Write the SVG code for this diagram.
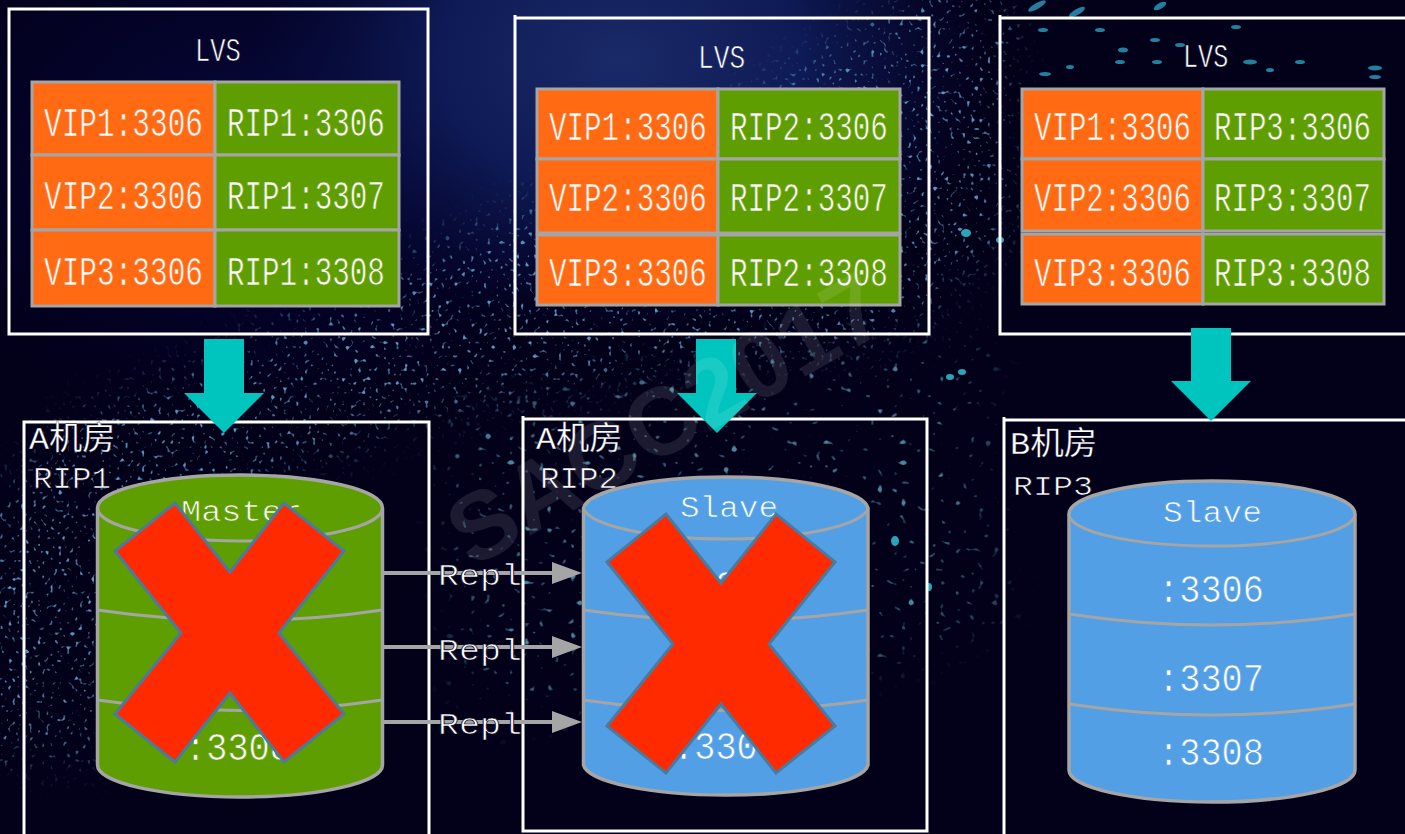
<svg xmlns="http://www.w3.org/2000/svg" width="1405" height="834" viewBox="0 0 1405 834">
<style>
text{font-family:"Liberation Mono","Noto Sans CJK SC",monospace;fill:#fff;stroke-width:.7}
.frame{fill:none;stroke:#fff;stroke-width:3}
.cell{stroke:#a5a5a5;stroke-width:3}
.vip{fill:#ff6a13}
.rip{fill:#5f9e00}
.t{font-size:40px}
.ov{stroke:#ff6a13}
.gr{stroke:#5f9e00}
.bl{stroke:#529fe6}
.dk{stroke:#050322}
.lvs{font-size:34px}
.lab{font-size:30px}
.cjk{font-size:32px;stroke-width:.3}
.nm{font-size:30px}
.db{font-size:38px}
.green{fill:#5f9e00;stroke:#a5a5a5;stroke-width:3.5}
.blue{fill:#529fe6;stroke:#a5a5a5;stroke-width:3.5}
.sep{fill:none;stroke:#a5a5a5;stroke-width:3}
.down{fill:#00c4be}
.repl{stroke:#a5a5a5;stroke-width:4;fill:none}
.cross{fill:#ff2a00;stroke:#4a7a9e;stroke-width:3}
.spot{fill:#2ba3b8}
.dash{fill:#237fa0}
</style>
<defs>
<radialGradient id="glow" gradientUnits="userSpaceOnUse" cx="0" cy="0" r="1" gradientTransform="translate(620 60) scale(370 270)">
<stop offset="0" stop-color="#1a2a68"/><stop offset=".5" stop-color="#0e1a55"/><stop offset="1" stop-color="#0a1045" stop-opacity="0"/>
</radialGradient>
<radialGradient id="glow2" gradientUnits="userSpaceOnUse" cx="0" cy="0" r="1" gradientTransform="translate(260 150) scale(380 270)">
<stop offset="0" stop-color="#060a3e"/><stop offset="1" stop-color="#040232" stop-opacity="0"/>
</radialGradient>
<filter id="blur30" x="-20%" y="-20%" width="140%" height="140%"><feGaussianBlur stdDeviation="22"/></filter>
<filter id="fine" x="0" y="0" width="100%" height="100%">
<feTurbulence type="fractalNoise" baseFrequency=".24 .22" numOctaves="1" seed="7"/>
<feColorMatrix type="matrix" values="0 0 0 0 .13  0 0 0 0 .42  0 0 0 0 .68  8 0 0 0 -5"/>
</filter>
<filter id="coarse" x="0" y="0" width="100%" height="100%">
<feTurbulence type="fractalNoise" baseFrequency=".13 .15" numOctaves="1" seed="21"/>
<feColorMatrix type="matrix" values="0 0 0 0 .16  0 0 0 0 .58  0 0 0 0 .74  10 0 0 0 -6.7"/>
</filter>
<mask id="mFine" maskUnits="userSpaceOnUse" x="0" y="0" width="1405" height="834">
<path filter="url(#blur30)" fill="#ddd" d="M-40 540L70 420L230 350L430 250L720 120L930 -20H1010V230L900 340L650 370L420 420L260 480L130 620L100 760H-40Z"/>
</mask>
<mask id="mCoarse" maskUnits="userSpaceOnUse" x="0" y="0" width="1405" height="834">
<path filter="url(#blur30)" fill="#aaa" d="M440 420L700 350L980 330L1000 620L900 660L470 720Z"/>
</mask>
</defs>

<g id="background">
<rect width="1405" height="834" fill="#03001a"/>
<rect width="1100" height="500" fill="url(#glow2)"/>
<rect width="1100" height="500" fill="url(#glow)"/>
<rect width="1405" height="834" filter="url(#fine)" mask="url(#mFine)"/>
<rect width="1405" height="834" filter="url(#coarse)" mask="url(#mCoarse)"/>
<g class="spot">
<ellipse cx="966" cy="233" rx="5" ry="4"/><ellipse cx="950" cy="377" rx="4" ry="3"/><ellipse cx="962" cy="372" rx="4" ry="3"/><ellipse cx="895" cy="541" rx="4" ry="5"/><ellipse cx="1000" cy="240" rx="4" ry="3"/><ellipse cx="929" cy="587" rx="3" ry="4"/>
<ellipse cx="125" cy="758" rx="7" ry="2.500" transform="rotate(-50 125 758)"/>
</g>
<g class="dash">
<ellipse cx="1037" cy="6" rx="10" ry="3" transform="rotate(-30 1037 6)"/><ellipse cx="1077" cy="12" rx="9" ry="3" transform="rotate(-30 1077 12)"/><ellipse cx="1160" cy="6" rx="7" ry="3" transform="rotate(-30 1160 6)"/>
<ellipse cx="1043" cy="30" rx="5" ry="2"/><ellipse cx="1100" cy="30" rx="5" ry="2"/><ellipse cx="1155" cy="40" rx="5" ry="2"/><ellipse cx="1123" cy="50" rx="5" ry="2.500"/><ellipse cx="1120" cy="62" rx="5" ry="2"/><ellipse cx="1157" cy="62" rx="5" ry="2"/><ellipse cx="1180" cy="45" rx="5" ry="2"/><ellipse cx="1236" cy="27" rx="5" ry="2"/><ellipse cx="1250" cy="62" rx="7" ry="2.500"/><ellipse cx="1300" cy="62" rx="5" ry="2"/><ellipse cx="1375" cy="68" rx="7" ry="2.500"/><ellipse cx="1375" cy="77" rx="6" ry="2"/><ellipse cx="1045" cy="74" rx="6" ry="2"/><ellipse cx="1070" cy="67" rx="4" ry="2"/><ellipse cx="1270" cy="70" rx="4" ry="2"/>
</g>
</g>

<g id="lvs1">
<rect class="frame" x="9" y="9" width="419" height="325"/>
<text class="lvs dk" transform="translate(195 61) scale(.75 1)">LVS</text>
<rect class="cell vip" x="32" y="82" width="183" height="73"/><rect class="cell rip" x="215" y="82" width="184" height="73"/>
<rect class="cell vip" x="32" y="155" width="183" height="75"/><rect class="cell rip" x="215" y="155" width="184" height="75"/>
<rect class="cell vip" x="32" y="230" width="183" height="76"/><rect class="cell rip" x="215" y="230" width="184" height="76"/>
<text class="t ov" transform="translate(44 136) scale(.736 1)">VIP1:3306</text><text class="t gr" transform="translate(227 136) scale(.731 1)">RIP1:3306</text>
<text class="t ov" transform="translate(44 209) scale(.736 1)">VIP2:3306</text><text class="t gr" transform="translate(227 209) scale(.731 1)">RIP1:3307</text>
<text class="t ov" transform="translate(44 285) scale(.736 1)">VIP3:3306</text><text class="t gr" transform="translate(227 285) scale(.731 1)">RIP1:3308</text>
</g>

<g id="lvs2">
<path class="frame" d="M515 15V334H929V18H514"/>
<text class="lvs" style="stroke:#14225e" transform="translate(698 68) scale(.77 1)">LVS</text>
<rect class="cell vip" x="537" y="89" width="181" height="70"/><rect class="cell rip" x="718" y="89" width="182" height="70"/>
<rect class="cell vip" x="537" y="159" width="181" height="74"/><rect class="cell rip" x="718" y="159" width="182" height="74"/>
<rect class="cell vip" x="537" y="235" width="181" height="70"/><rect class="cell rip" x="718" y="235" width="182" height="70"/>
<text class="t ov" transform="translate(549 140) scale(.731 1)">VIP1:3306</text><text class="t gr" transform="translate(730 140) scale(.731 1)">RIP2:3306</text>
<text class="t ov" transform="translate(549 211) scale(.731 1)">VIP2:3306</text><text class="t gr" transform="translate(730 211) scale(.731 1)">RIP2:3307</text>
<text class="t ov" transform="translate(549 286) scale(.731 1)">VIP3:3306</text><text class="t gr" transform="translate(730 286) scale(.731 1)">RIP2:3308</text>
</g>

<g id="lvs3">
<path class="frame" d="M1405 18H1000V334H1405M1000 15V18"/>
<text class="lvs dk" transform="translate(1183 67) scale(.74 1)">LVS</text>
<rect class="cell vip" x="1022" y="89" width="181" height="70"/><rect class="cell rip" x="1203" y="89" width="181" height="70"/>
<rect class="cell vip" x="1022" y="159" width="181" height="72"/><rect class="cell rip" x="1203" y="159" width="181" height="72"/>
<rect class="cell vip" x="1022" y="234" width="181" height="70"/><rect class="cell rip" x="1203" y="234" width="181" height="70"/>
<text class="t ov" transform="translate(1034 140) scale(.727 1)">VIP1:3306</text><text class="t gr" transform="translate(1214 140) scale(.727 1)">RIP3:3306</text>
<text class="t ov" transform="translate(1034 211) scale(.727 1)">VIP2:3306</text><text class="t gr" transform="translate(1214 211) scale(.727 1)">RIP3:3307</text>
<text class="t ov" transform="translate(1034 286) scale(.727 1)">VIP3:3306</text><text class="t gr" transform="translate(1214 286) scale(.727 1)">RIP3:3308</text>
</g>

<g id="roomA1">
<path class="frame" d="M24 834V422H429V834"/>
<text class="cjk dk" transform="translate(29 449) scale(1.04 1)">A机房</text>
<text class="lab dk" transform="translate(33 488) scale(1.083 1)">RIP1</text>
</g>
<g id="roomA2">
<path class="frame" d="M523 416V831H927V419H522"/>
<text class="cjk dk" transform="translate(536 449) scale(1.04 1)">A机房</text>
<text class="lab dk" transform="translate(540 488) scale(1.083 1)">RIP2</text>
</g>
<g id="roomB">
<path class="frame" d="M1405 420H1004V834M1004 417V420"/>
<text class="cjk dk" transform="translate(1010 454) scale(1.05 1)">B机房</text>
<text class="lab dk" transform="translate(1013 495) scale(1.11 .92)">RIP3</text>
</g>

<g id="connectors">
<path class="down" d="M204 339H244V393H264L224 433L184 393H204Z"/>
<path class="down" d="M696 339H736V393H757L717 433L677 393H696Z"/>
<path class="down" d="M1191 328H1231V381H1251L1211 421L1171 381H1191Z"/>
<path class="repl" d="M384 573H556M384 647H556M384 722H556"/>
<path fill="#a5a5a5" d="M552 562L582 573L552 584ZM552 636L582 647L552 658ZM552 711L582 722L552 733Z"/>
</g>

<g id="master">
<path class="green" d="M97.500 508A142.500 33 0 0 1 382.500 508V765A142.500 32 0 0 1 97.500 765Z"/>
<path class="sep" d="M97.500 508A142.500 33 0 0 0 382.500 508M97.500 610Q240 631 382.500 610M97.500 700Q240 721 382.500 700"/>
<text class="nm gr" transform="translate(181 521) scale(1.12 1)">Master</text>
<text class="db gr" transform="translate(185 760) scale(.93 1)">:3308</text>
</g>
<g id="slave2">
<path class="blue" d="M583.500 508A142.500 33 0 0 1 868 508V765A142.500 32 0 0 1 583.500 765Z"/>
<path class="sep" d="M583.500 508A142.500 33 0 0 0 868 508M583.500 610Q726 631 868 610M583.500 700Q726 721 868 700"/>
<text class="nm bl" transform="translate(680 517) scale(1.09 1)">Slave</text>
<text class="db bl" transform="translate(673 598) scale(.93 1)">:3306</text>
<text class="db bl" transform="translate(673 759) scale(.93 1)">:3308</text>
</g>
<g id="slave3">
<path class="blue" d="M1069 514A143 33 0 0 1 1355 514V770A143 32 0 0 1 1069 770Z"/>
<path class="sep" d="M1069 514A143 32 0 0 0 1355 514M1069 614Q1212 636 1355 614M1069 704Q1212 726 1355 704"/>
<text class="nm bl" transform="translate(1163 522) scale(1.1 1)">Slave</text>
<text class="db bl" transform="translate(1158 602) scale(.93 1)">:3306</text>
<text class="db bl" transform="translate(1158 691) scale(.93 1)">:3307</text>
<text class="db bl" transform="translate(1158 765) scale(.93 1)">:3308</text>
</g>

<g id="repl-labels">
<text class="lab dk" transform="translate(438 585) scale(1.167 1)">Repl</text>
<text class="lab dk" transform="translate(438 660) scale(1.167 1)">Repl</text>
<text class="lab dk" transform="translate(438 734) scale(1.167 1)">Repl</text>
</g>

<g id="cross1"><path class="cross" d="M175 503L230 572L284 503L344 551L279 633L344 714L284 762L230 693L175 762L115 714L181 633L115 551Z"/></g>
<g id="cross2"><path class="cross" d="M666 514L721 583L776 514L835 562L769 644L835 726L776 773L721 704L666 773L607 726L673 644L607 562Z"/></g>

<text id="watermark" transform="translate(472 569) rotate(-30)" style="font-family:'Liberation Sans',sans-serif;font-weight:700;font-size:96px;fill:#fff;fill-opacity:.1;stroke:none">SACC2017</text>
</svg>
